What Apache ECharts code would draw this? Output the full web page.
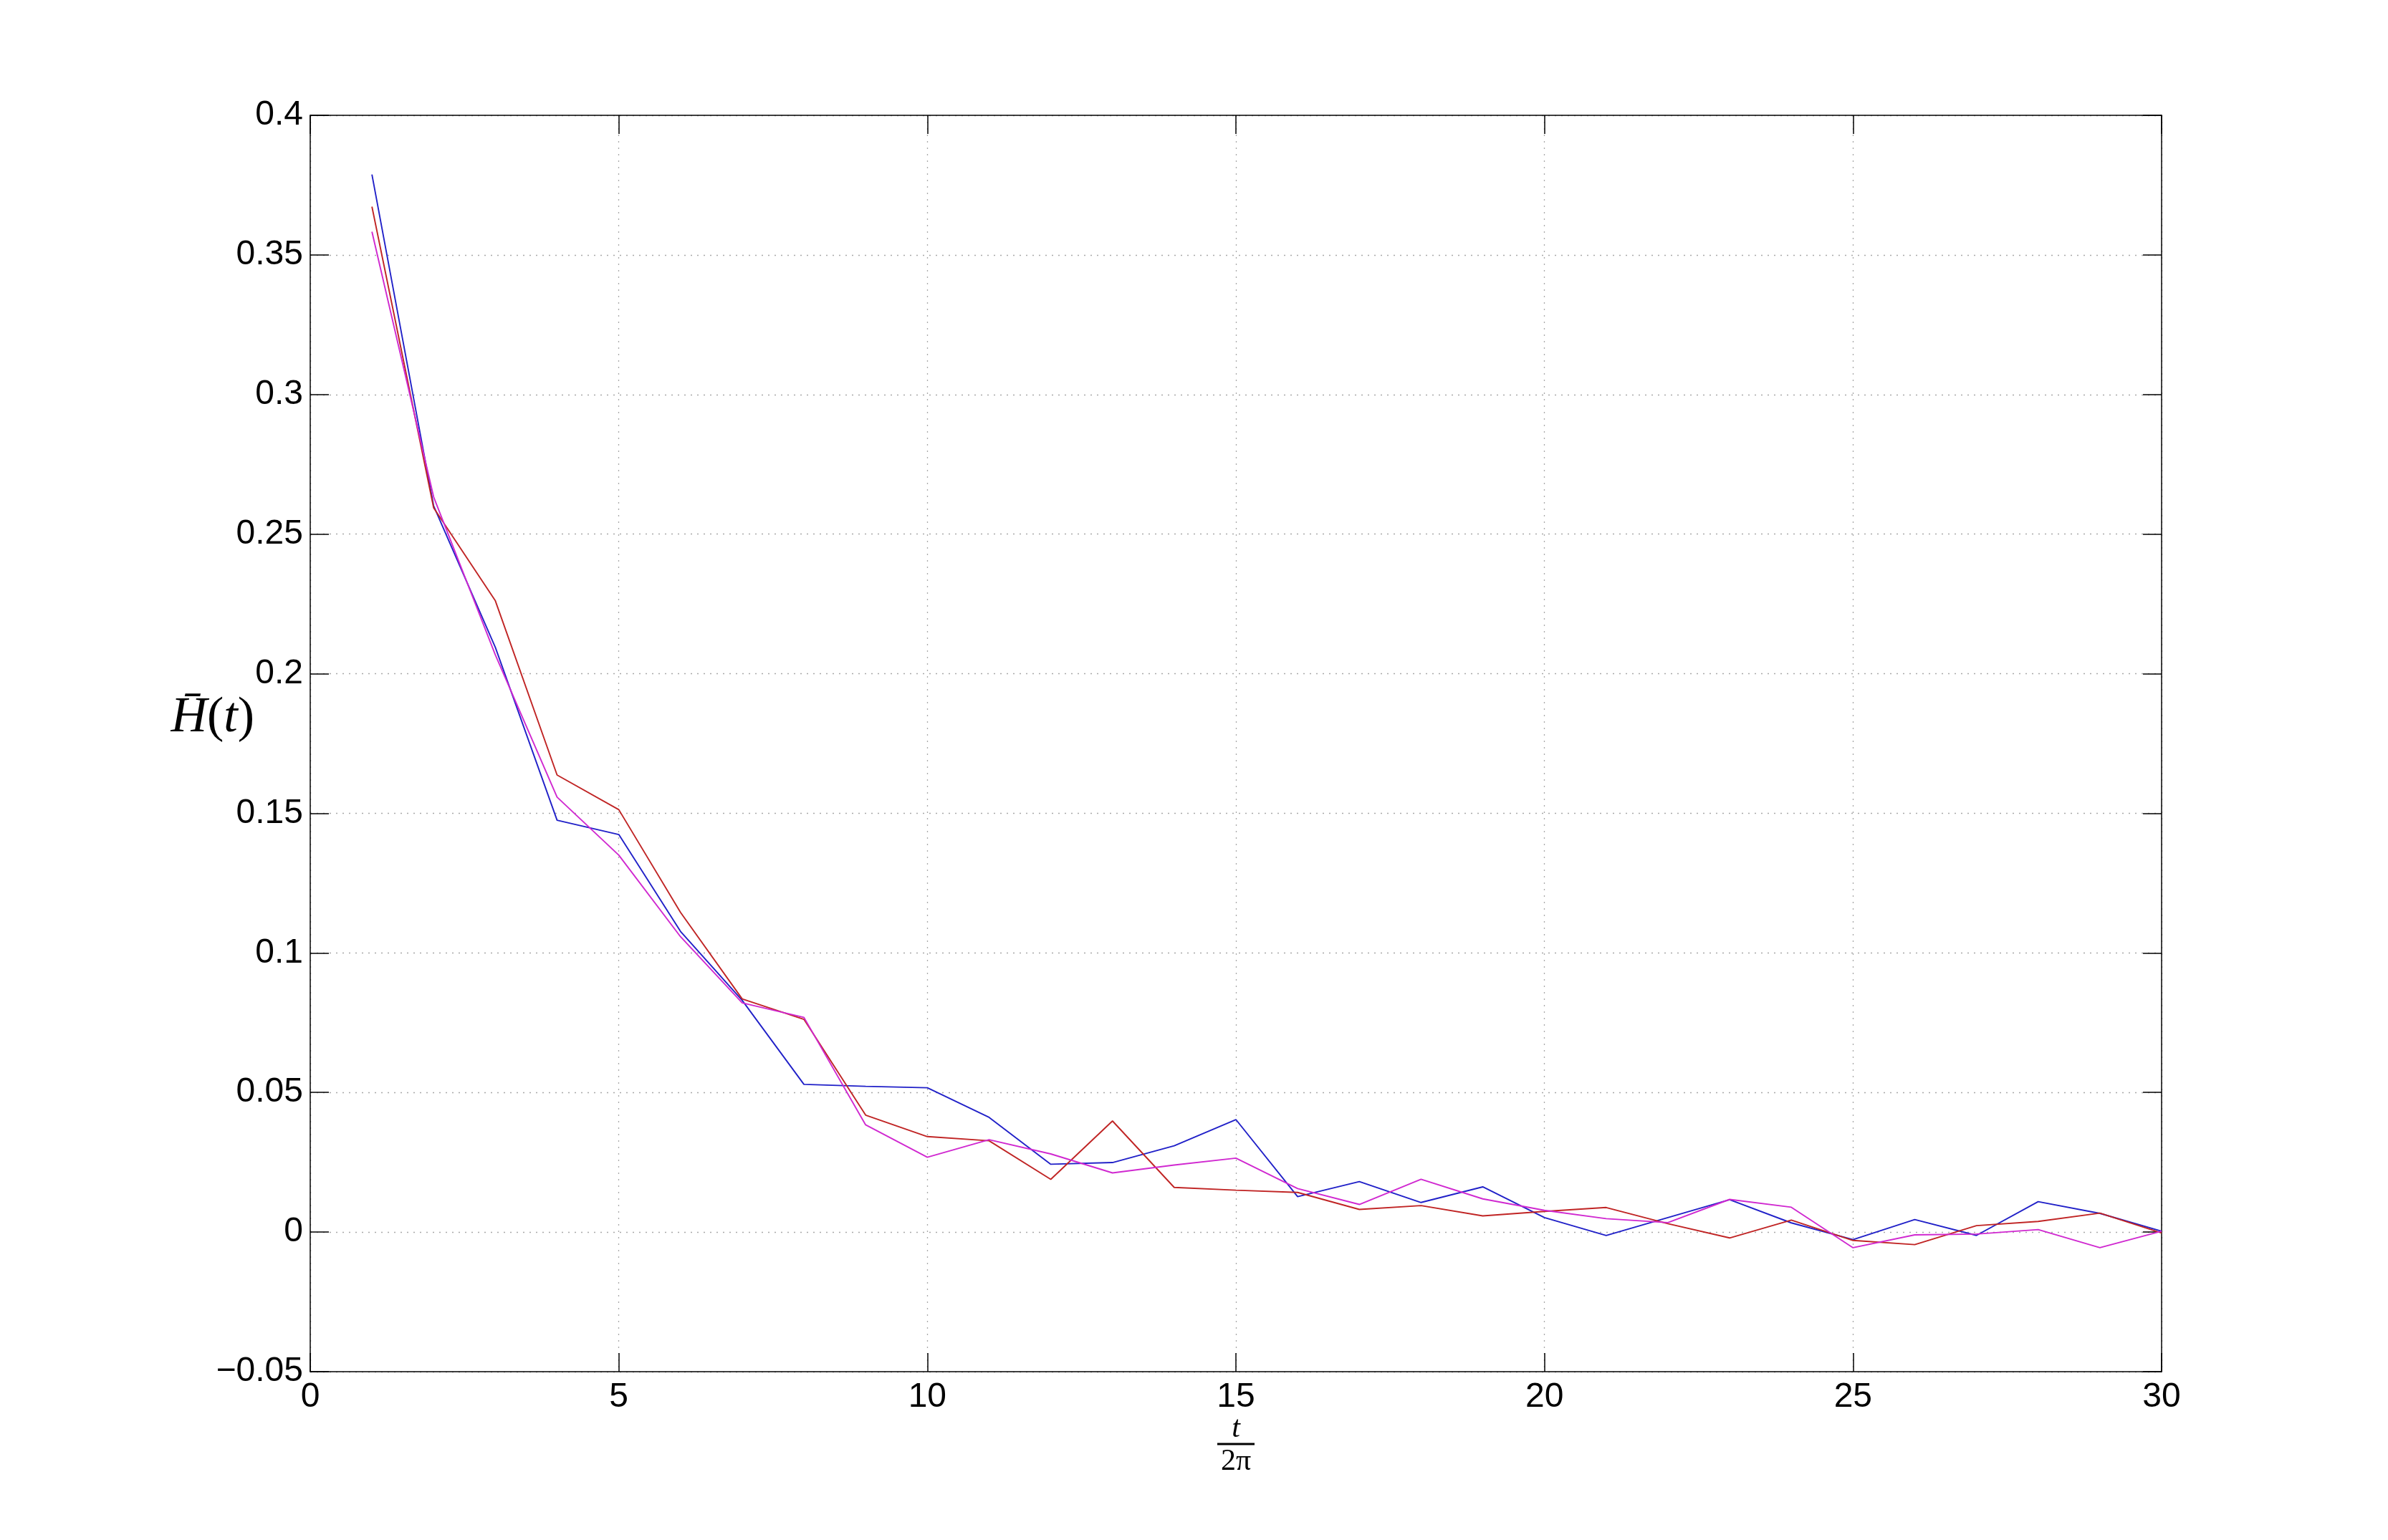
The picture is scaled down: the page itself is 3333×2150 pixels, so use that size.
<!DOCTYPE html>
<html>
<head>
<meta charset="utf-8">
<script src="https://cdn.jsdelivr.net/npm/echarts@6/dist/echarts.min.js"></script>
<style>
  html, body { margin: 0; padding: 0; background: #fff; }
  #chart { width: 3333px; height: 2150px; }
</style>
</head>
<body>
<div id="chart"></div>
<script>
// x positions (t / 2π)
const tValues = [1,2,3,4,5,6,7,8,9,10,11,12,13,14,15,16,17,18,19,20,21,22,23,24,25,26,27,28,29,30];

// series values
const blueValues = [0.3788,0.2601,0.2094,0.1475,0.1424,0.1077,0.0830,0.0529,0.0522,0.0517,
  0.0411,0.0243,0.0249,0.0309,0.0403,0.0127,0.0181,0.0106,0.0162,0.0052,
  -0.0012,0.0052,0.0116,0.0033,-0.0027,0.0045,-0.0012,0.0109,0.0067,0.0003];
const redValues = [0.3673,0.2594,0.2261,0.1637,0.1513,0.1145,0.0835,0.0762,0.0419,0.0342,
  0.0327,0.0189,0.0398,0.0160,0.0150,0.0142,0.0081,0.0095,0.0058,0.0074,
  0.0088,0.0030,-0.0021,0.0043,-0.0030,-0.0045,0.0023,0.0038,0.0068,-0.0003];
const magentaValues = [0.3583,0.2633,0.2067,0.1558,0.1350,0.1058,0.0821,0.0769,0.0384,0.0268,
  0.0331,0.0280,0.0212,0.0240,0.0265,0.0156,0.0099,0.0189,0.0119,0.0078,
  0.0048,0.0034,0.0117,0.0089,-0.0056,-0.0010,-0.0007,0.0009,-0.0056,0.0003];

// tick labels
const xTickLabels = ['0','5','10','15','20','25','30'];
const yTickValues = [-0.05,0,0.05,0.1,0.15,0.2,0.25,0.3,0.35,0.4];
const yTickLabels = ['\u22120.05','0','0.05','0.1','0.15','0.2','0.25','0.3','0.35','0.4'];

function pairs(ys) { return tValues.map((t, i) => [t, ys[i]]); }
function yLabel(v) {
  let best = 0, d = Infinity;
  yTickValues.forEach((tv, i) => { const dd = Math.abs(tv - v); if (dd < d) { d = dd; best = i; } });
  return yTickLabels[best];
}
function xLabel(v) {
  const i = Math.round(v / 5);
  return xTickLabels[i] !== undefined ? xTickLabels[i] : '';
}

const axisLineStyle = { color: '#000', width: 1.5 };
const tickStyle = { show: true, inside: true, length: 26, lineStyle: { color: '#000', width: 1.5 } };
const gridLine = { show: true, lineStyle: { color: '#a8a8a8', width: 1.3, type: [2, 7] } };
const labelFont = { fontFamily: 'Liberation Sans, Arial, sans-serif', fontSize: 48, color: '#000' };

const chart = echarts.init(document.getElementById('chart'), null, { renderer: 'canvas' });
chart.setOption({
  animation: false,
  backgroundColor: '#fff',
  grid: { left: 433, top: 161, width: 2584, height: 1754, containLabel: false },
  xAxis: [
    {
      type: 'value', min: 0, max: 30, interval: 5, position: 'bottom',
      axisLine: { show: true, onZero: false, lineStyle: axisLineStyle },
      axisTick: tickStyle,
      splitLine: gridLine,
      axisLabel: Object.assign({ margin: 12, formatter: xLabel }, labelFont),
      name: '{n|t}\n{bar| }\n{d|2π}',
      nameLocation: 'middle',
      nameGap: 64,
      nameMoveOverlap: false,
      nameTextStyle: {
        align: 'center',
        rich: {
          n: { fontFamily: 'Liberation Serif, serif', fontStyle: 'italic', fontSize: 42, color: '#000', lineHeight: 32, align: 'center' },
          bar: { width: 52, height: 3, lineHeight: 10, backgroundColor: '#000', align: 'center', fontSize: 4 },
          d: { fontFamily: 'Liberation Serif, serif', fontSize: 42, color: '#000', lineHeight: 40, align: 'center' }
        }
      }
    },
    {
      type: 'value', min: 0, max: 30, interval: 5, position: 'top',
      axisLine: { show: true, onZero: false, lineStyle: axisLineStyle },
      axisTick: tickStyle,
      splitLine: { show: false },
      axisLabel: { show: false }
    }
  ],
  yAxis: [
    {
      type: 'value', min: -0.05, max: 0.4, interval: 0.05, position: 'left',
      axisLine: { show: true, onZero: false, lineStyle: axisLineStyle },
      axisTick: tickStyle,
      splitLine: gridLine,
      axisLabel: Object.assign({ margin: 10, formatter: yLabel }, labelFont),
      name: '{i|H\u0304}{r|(}{i|t}{r|)}',
      nameLocation: 'middle',
      nameRotate: 0,
      nameGap: 78,
      nameMoveOverlap: false,
      nameTextStyle: {
        padding: [0, 0, 70, 0],
        rich: {
          i: { fontFamily: 'Liberation Serif, serif', fontStyle: 'italic', fontSize: 70, color: '#000' },
          r: { fontFamily: 'Liberation Serif, serif', fontSize: 70, color: '#000' }
        }
      }
    },
    {
      type: 'value', min: -0.05, max: 0.4, interval: 0.05, position: 'right',
      axisLine: { show: true, onZero: false, lineStyle: axisLineStyle },
      axisTick: tickStyle,
      splitLine: { show: false },
      axisLabel: { show: false }
    }
  ],
  series: [
    { name: 'blue', type: 'line', data: pairs(blueValues), showSymbol: false,
      lineStyle: { color: '#2020c8', width: 1.9 }, itemStyle: { color: '#2020c8' } },
    { name: 'red', type: 'line', data: pairs(redValues), showSymbol: false,
      lineStyle: { color: '#c02424', width: 1.9 }, itemStyle: { color: '#c02424' } },
    { name: 'magenta', type: 'line', data: pairs(magentaValues), showSymbol: false,
      lineStyle: { color: '#d028d0', width: 1.9 }, itemStyle: { color: '#d028d0' } }
  ]
});
</script>
</body>
</html>
